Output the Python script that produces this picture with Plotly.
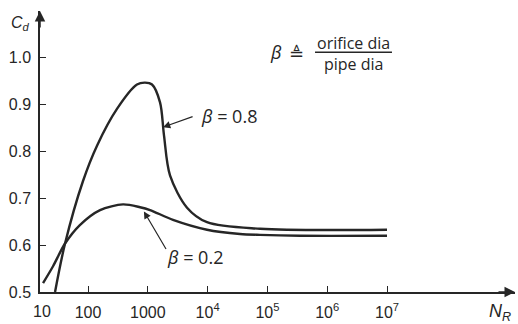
import math
import plotly.graph_objects as go

# ---- data ----
nr_b08 = [28.1, 41.2, 82.5, 142, 305, 659, 897, 1175, 1600, 1866, 2350, 4529, 9772,
          7.52e4, 1e7]
cd_b08 = [0.500, 0.603, 0.737, 0.813, 0.891, 0.943, 0.947, 0.943, 0.905, 0.834, 0.749,
          0.680, 0.649, 0.635, 0.633]

nr_b02 = [17.7, 26, 41, 73, 159, 385, 741, 1089, 2636, 9772, 3.48e4, 7.5e4, 3.5e5, 1e7]
cd_b02 = [0.519, 0.555, 0.603, 0.643, 0.675, 0.687, 0.681, 0.675, 0.654, 0.633,
          0.624, 0.622, 0.620, 0.620]

x_tickvals = [100, 1000, 1e4, 1e5, 1e6, 1e7]
x_ticktext = ["100", "1000", "10<sup>4</sup>", "10<sup>5</sup>", "10<sup>6</sup>", "10<sup>7</sup>"]
y_tickvals = [0.5, 0.6, 0.7, 0.8, 0.9, 1.0]
y_ticktext = ["0.5", "0.6", "0.7", "0.8", "0.9", "1.0"]

INK = "#262626"
NUMFONT = "Liberation Sans, sans-serif"
TXTFONT = "Open Sans, sans-serif"

fig = go.Figure()
fig.add_trace(go.Scatter(x=nr_b08, y=cd_b08, mode="lines",
                         line=dict(color=INK, width=2.4, shape="spline", smoothing=0.9),
                         hoverinfo="skip", showlegend=False))
fig.add_trace(go.Scatter(x=nr_b02, y=cd_b02, mode="lines",
                         line=dict(color=INK, width=2.4, shape="spline", smoothing=0.8),
                         hoverinfo="skip", showlegend=False))

fig.update_xaxes(type="log", range=[1.197, 9.14], showgrid=False, zeroline=False,
                 showline=True, linecolor=INK, linewidth=1.5,
                 ticks="inside", ticklen=6, tickwidth=1.3, tickcolor=INK,
                 tickvals=x_tickvals, ticktext=x_ticktext,
                 tickfont=dict(family=NUMFONT, size=16, color=INK),
                 ticklabelstandoff=5)
fig.update_yaxes(range=[0.5, 1.1], showgrid=False, zeroline=False,
                 showline=True, linecolor=INK, linewidth=1.5,
                 ticks="inside", ticklen=6, tickwidth=1.3, tickcolor=INK,
                 tickvals=y_tickvals, ticktext=y_ticktext,
                 tickfont=dict(family=NUMFONT, size=16, color=INK),
                 ticklabelstandoff=4)


def text_ann(x, y, text, size, family=TXTFONT):
    return dict(xref="paper", yref="paper", x=x, y=y, text=text, showarrow=False,
                xanchor="center", yanchor="middle",
                font=dict(family=family, size=size, color=INK))


ann = []
# axis arrowheads
ann.append(dict(xref="paper", yref="paper", x=0, y=1.0, ax=0, ay=18, text="",
                showarrow=True, arrowhead=2, arrowsize=1.4, arrowwidth=1.5, arrowcolor=INK))
ann.append(dict(xref="paper", yref="paper", x=1.0, y=0, ax=-18, ay=0, text="",
                showarrow=True, arrowhead=2, arrowsize=1.4, arrowwidth=1.5, arrowcolor=INK))
# axis titles
ann.append(text_ann(-0.042, 0.955, "<i>C<sub>d</sub></i>", 16, "Liberation Sans, sans-serif"))
ann.append(text_ann(0.968, -0.072, "<i>N<sub>R</sub></i>", 18, "Liberation Sans, sans-serif"))
# "10" at the origin
ann.append(text_ann(0.004, -0.07, "10", 16, NUMFONT))
# curve labels
ann.append(text_ann(0.398, 0.625, "<i>β</i> = 0.8", 18))
ann.append(text_ann(0.326, 0.123, "<i>β</i> = 0.2", 18))
# label arrows
ann.append(dict(xref="x", yref="y", x=math.log10(1800), y=0.852, ax=31, ay=-11, text="",
                showarrow=True, arrowhead=2, arrowsize=1.2, arrowwidth=1.2, arrowcolor=INK))
ann.append(dict(xref="x", yref="y", x=math.log10(860), y=0.672, ax=23, ay=39, text="",
                showarrow=True, arrowhead=2, arrowsize=1.2, arrowwidth=1.2, arrowcolor=INK))
# definition of beta
ann.append(text_ann(0.497, 0.853, "<i>β</i>", 18))
ann.append(text_ann(0.541, 0.849, "≜", 18, "DejaVu Sans, sans-serif"))
ann.append(text_ann(0.659, 0.885, "orifice dia", 16))
ann.append(text_ann(0.661, 0.810, "pipe dia", 16))

fig.update_layout(
    width=518, height=324,
    margin=dict(l=40, r=3, t=11, b=28),
    paper_bgcolor="white", plot_bgcolor="white",
    annotations=ann,
    shapes=[dict(type="line", xref="paper", yref="paper", x0=0.579, x1=0.741, y0=0.853, y1=0.853,
                 line=dict(color=INK, width=1.5))],
    showlegend=False,
)

fig.write_html("out.html")
